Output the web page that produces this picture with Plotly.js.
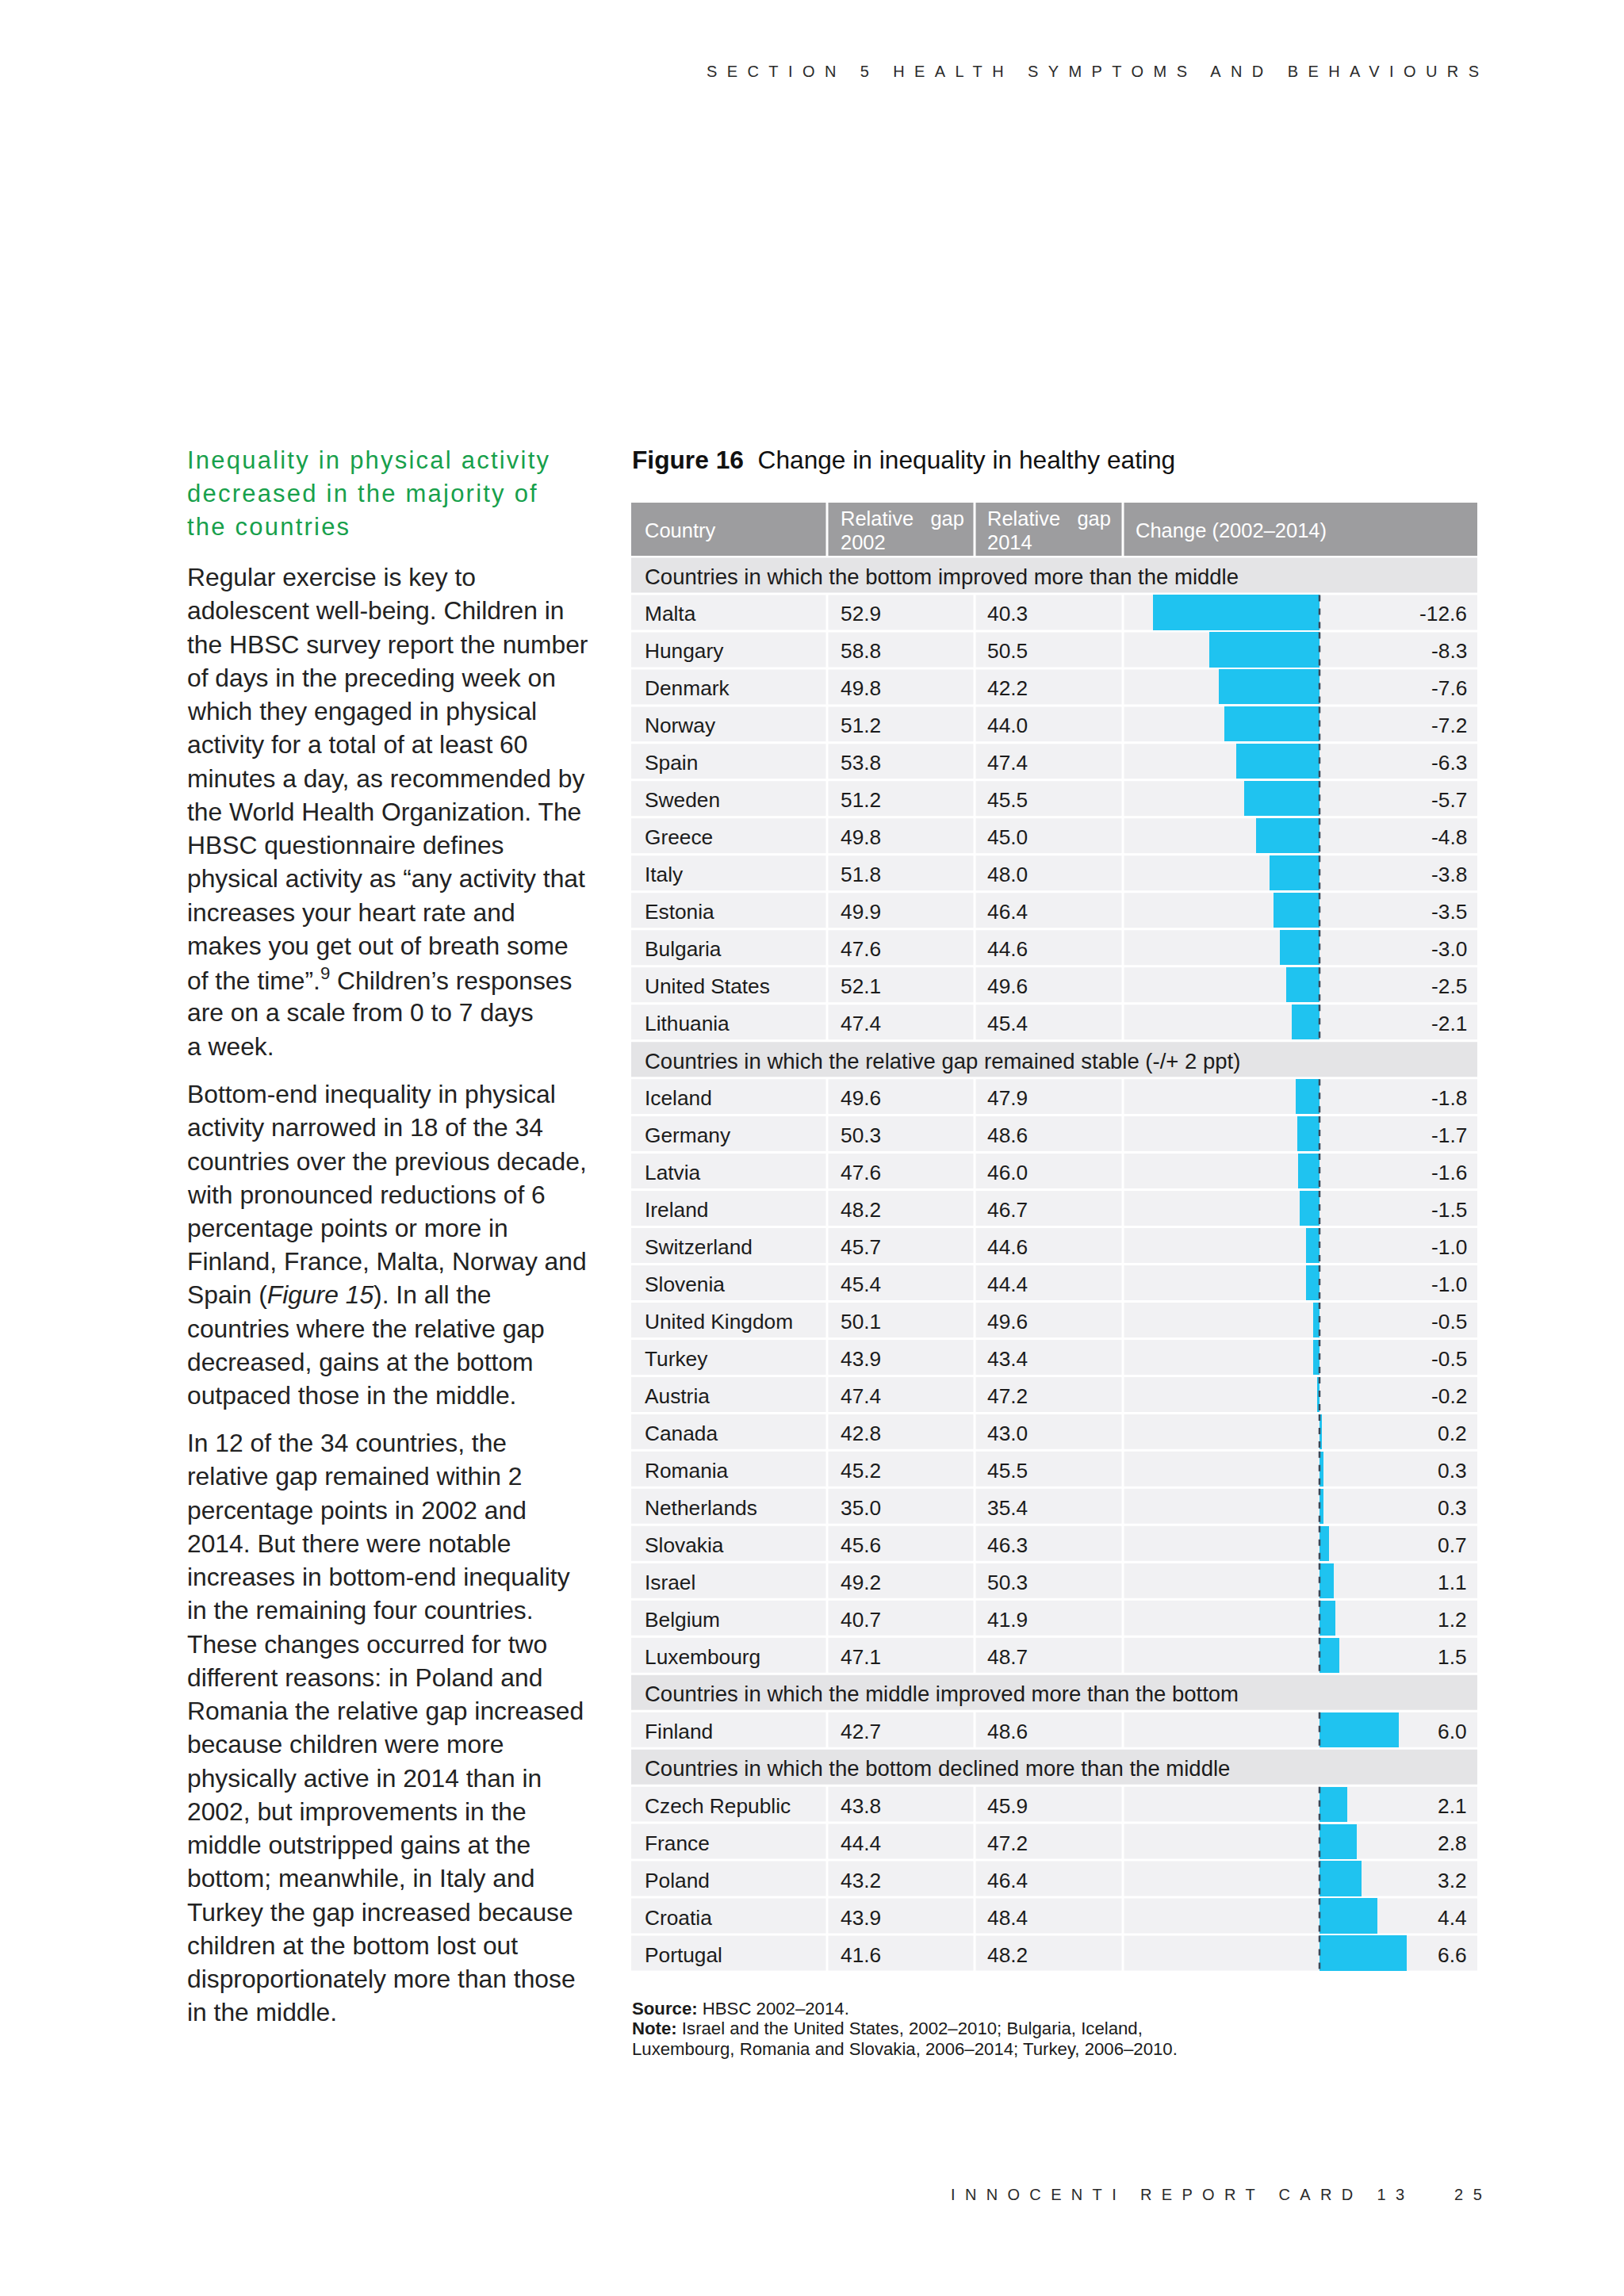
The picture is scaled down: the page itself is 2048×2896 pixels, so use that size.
<!DOCTYPE html>
<html><head><meta charset="utf-8">
<script src="https://cdn.plot.ly/plotly-3.0.1.min.js"></script>
<style>html,body{margin:0;padding:0;background:#fff;}</style>
</head><body>
<div id="chart" style="width:2048px;height:2896px;"></div>
<script>
// ---------------- DATA ----------------
const groupLabels = [
  "Countries in which the bottom improved more than the middle",
  "Countries in which the relative gap remained stable (-/+ 2 ppt)",
  "Countries in which the middle improved more than the bottom",
  "Countries in which the bottom declined more than the middle"
];
const countries = ["Malta","Hungary","Denmark","Norway","Spain","Sweden","Greece","Italy","Estonia","Bulgaria","United States","Lithuania",
  "Iceland","Germany","Latvia","Ireland","Switzerland","Slovenia","United Kingdom","Turkey","Austria","Canada","Romania","Netherlands","Slovakia","Israel","Belgium","Luxembourg",
  "Finland",
  "Czech Republic","France","Poland","Croatia","Portugal"];
const countryGroup = [0,0,0,0,0,0,0,0,0,0,0,0,
  1,1,1,1,1,1,1,1,1,1,1,1,1,1,1,1,
  2,
  3,3,3,3,3];
const gap2002 = [52.9,58.8,49.8,51.2,53.8,51.2,49.8,51.8,49.9,47.6,52.1,47.4,
  49.6,50.3,47.6,48.2,45.7,45.4,50.1,43.9,47.4,42.8,45.2,35.0,45.6,49.2,40.7,47.1,
  42.7,
  43.8,44.4,43.2,43.9,41.6];
const gap2014 = [40.3,50.5,42.2,44.0,47.4,45.5,45.0,48.0,46.4,44.6,49.6,45.4,
  47.9,48.6,46.0,46.7,44.6,44.4,49.6,43.4,47.2,43.0,45.5,35.4,46.3,50.3,41.9,48.7,
  48.6,
  45.9,47.2,46.4,48.4,48.2];
const change = [-12.6,-8.3,-7.6,-7.2,-6.3,-5.7,-4.8,-3.8,-3.5,-3.0,-2.5,-2.1,
  -1.8,-1.7,-1.6,-1.5,-1.0,-1.0,-0.5,-0.5,-0.2,0.2,0.3,0.3,0.7,1.1,1.2,1.5,
  6.0,
  2.1,2.8,3.2,4.4,6.6];
const headerLabels = ["Country", "Relative\u00a0\u00a0\u00a0gap", "2002", "Relative\u00a0\u00a0\u00a0gap", "2014", "Change (2002\u20132014)"];

const pageHeader = "SECTION 5 HEALTH SYMPTOMS AND BEHAVIOURS";
const footerText = "INNOCENTI REPORT CARD 13";
const pageNumber = "25";
const figTitle = "<b>Figure 16</b>\u00a0 Change in inequality in healthy eating";
const headingLines = ["Inequality in physical activity","decreased in the majority of","the countries"];
const bodyParas = [
 ["Regular exercise is key to","adolescent well-being. Children in","the HBSC survey report the number","of days in the preceding week on","which they engaged in physical","activity for a total of at least 60","minutes a day, as recommended by","the World Health Organization. The","HBSC questionnaire defines","physical activity as \u201cany activity that","increases your heart rate and","makes you get out of breath some","of the time\u201d.<sup>9</sup> Children\u2019s responses","are on a scale from 0 to 7 days","a week."],
 ["Bottom-end inequality in physical","activity narrowed in 18 of the 34","countries over the previous decade,","with pronounced reductions of 6","percentage points or more in","Finland, France, Malta, Norway and","Spain (<i>Figure 15</i>). In all the","countries where the relative gap","decreased, gains at the bottom","outpaced those in the middle."],
 ["In 12 of the 34 countries, the","relative gap remained within 2","percentage points in 2002 and","2014. But there were notable","increases in bottom-end inequality","in the remaining four countries.","These changes occurred for two","different reasons: in Poland and","Romania the relative gap increased","because children were more","physically active in 2014 than in","2002, but improvements in the","middle outstripped gains at the","bottom; meanwhile, in Italy and","Turkey the gap increased because","children at the bottom lost out","disproportionately more than those","in the middle."]
];
const noteLines = ["<b>Source:</b> HBSC 2002\u20132014.",
 "<b>Note:</b> Israel and the United States, 2002\u20132010; Bulgaria, Iceland,",
 "Luxembourg, Romania and Slovakia, 2006\u20132014; Turkey, 2006\u20132010."];

// ---------------- BUILD ----------------
const W = 2048, H = 2896;
const X = v => v / W, Y = v => 1 - v / H;
const FONT = "Liberation Sans, Arial, Helvetica, sans-serif";

// rows: section label followed by its countries
const rowKeys = [], rowIsSection = [], rowCountry = [];
groupLabels.forEach((g, gi) => {
  rowKeys.push(g); rowIsSection.push(true); rowCountry.push(-1);
  countries.forEach((c, ci) => { if (countryGroup[ci] === gi) { rowKeys.push(c); rowIsSection.push(false); rowCountry.push(ci); } });
});
const nRows = rowKeys.length;

const tableTop = 702, tableBottom = 2487, headTop = 634;
const cols = [[796,1041.5],[1044.5,1227.5],[1230.5,1414.5],[1417.5,1863]];
const zeroPx = 1664, pxPerUnit = 16.7;
const barL = 1417.5, barR = 1863;

const barX = rowKeys.map((k, i) => rowIsSection[i] ? null : change[rowCountry[i]]);
const traces = [{
  type: 'bar', orientation: 'h', y: rowKeys, x: barX,
  marker: {color: '#1fc3f0', line: {width: 0}}, width: 0.94,
  hoverinfo: 'skip', showlegend: false
}];

const shapes = [];
const annotations = [];
const spacing = {}; // annotation index -> {target} or group
function ann(o, sp) { annotations.push(Object.assign({showarrow: false, xref: 'paper', yref: 'paper', align: 'left', xanchor: 'left', yanchor: 'middle'}, o)); if (sp) spacing[annotations.length - 1] = sp; }

// header cells
cols.forEach(c => shapes.push({type:'rect', xref:'paper', yref:'paper', x0:X(c[0]), x1:X(c[1]), y0:Y(701), y1:Y(headTop), fillcolor:'#9d9d9f', line:{width:0}, layer:'below'}));
const hf = {family: FONT, size: 25.5, color: '#ffffff'};
ann({x: X(811), y: Y(669), text: headerLabels[0], font: hf});
ann({x: X(1058), y: Y(654), text: headerLabels[1], font: hf});
ann({x: X(1058), y: Y(684), text: headerLabels[2], font: hf});
ann({x: X(1243), y: Y(654), text: headerLabels[3], font: hf});
ann({x: X(1243), y: Y(684), text: headerLabels[4], font: hf});
ann({x: X(1430), y: Y(669), text: headerLabels[5], font: hf});

// row backgrounds & texts
const g = 0.032;
const tf = {family: FONT, size: 26.3, color: '#1b1b1b'};
const sf = {family: FONT, size: 27.5, color: '#1b1b1b'};
rowKeys.forEach((k, i) => {
  if (rowIsSection[i]) {
    shapes.push({type:'rect', xref:'paper', yref:'y', x0:X(796), x1:X(1863), y0:i-0.5+g, y1:i+0.5-g, fillcolor:'#e4e4e6', line:{width:0}, layer:'below'});
    ann({x: X(811), yref: 'y', y: i, yshift: -2, text: k, font: sf});
  } else {
    cols.forEach(c => shapes.push({type:'rect', xref:'paper', yref:'y', x0:X(c[0]), x1:X(c[1]), y0:i-0.5+g, y1:i+0.5-g, fillcolor:'#f1f1f3', line:{width:0}, layer:'below'}));
    const ci = rowCountry[i];
    ann({x: X(811), yref: 'y', y: i, yshift: -2, text: k, font: tf});
    ann({x: X(1058), yref: 'y', y: i, yshift: -2, text: gap2002[ci].toFixed(1), font: tf});
    ann({x: X(1243), yref: 'y', y: i, yshift: -2, text: gap2014[ci].toFixed(1), font: tf});
    ann({x: X(1852), xanchor: 'right', align: 'right', yref: 'y', y: i, yshift: -2, text: change[ci].toFixed(1), font: tf});
    shapes.push({type:'line', xref:'x', yref:'y', x0:0, x1:0, y0:i-0.5+g, y1:i+0.5-g, line:{color:'#3a4757', width:2.5, dash:'8px,9px'}, layer:'above'});
  }
});

// page header / footer
ann({x: X(889), y: Y(90), text: pageHeader, font: {family: FONT, size: 20, color: '#2a2a2a'}}, {target: 974});
ann({x: X(1197), y: Y(2768), text: footerText, font: {family: FONT, size: 20, color: '#2a2a2a'}}, {target: 572});
ann({x: X(1832), y: Y(2768), text: pageNumber, font: {family: FONT, size: 20, color: '#2a2a2a'}}, {target: 35});

// figure title
ann({x: X(795), y: Y(580), text: figTitle, font: {family: FONT, size: 31.7, color: '#111'}});

// green heading
headingLines.forEach((t, j) => ann({x: X(234), y: Y(580 + j * 42.3), text: t, font: {family: FONT, size: 31, color: '#17a04b'}}, j === 0 ? {target: 456, group: 'head'} : {group: 'head'}));

// body paragraphs
const paraStart = [728, 1380, 1820], lineH = 42.25;
bodyParas.forEach((p, pi) => p.forEach((t, j) => ann({x: X(234), y: Y(paraStart[pi] + j * lineH), text: t, font: {family: FONT, size: 31.8, color: '#222'}})));

// notes
noteLines.forEach((t, j) => ann({x: X(795), y: Y(2533 + j * 25.5), text: t, font: {family: FONT, size: 22.2, color: '#1b1b1b'}}));

const layout = {
  width: W, height: H, margin: {l:0, r:0, t:0, b:0},
  paper_bgcolor: '#ffffff', plot_bgcolor: 'rgba(0,0,0,0)',
  xaxis: {domain: [X(barL), X(barR)], range: [-(zeroPx - barL) / pxPerUnit, (barR - zeroPx) / pxPerUnit], visible: false, fixedrange: true},
  yaxis: {domain: [Y(tableBottom), Y(tableTop)], type: 'category', categoryorder: 'array', categoryarray: rowKeys, range: [nRows - 0.5, -0.5], visible: false, fixedrange: true},
  bargap: 0, shapes: shapes, annotations: annotations, showlegend: false,
  font: {family: FONT}
};

Plotly.newPlot('chart', traces, layout, {staticPlot: true, displayModeBar: false}).then(() => {
  const els = document.querySelectorAll('#chart g.annotation');
  let headLs = null;
  els.forEach(el => {
    const idx = +el.getAttribute('data-index');
    const sp = spacing[idx];
    if (!sp || sp.target === undefined) return;
    const t = el.querySelector('text.annotation-text');
    const w = t.getComputedTextLength();
    const n = t.textContent.length;
    const ls = (sp.target - w) / Math.max(1, n - 1);
    t.style.letterSpacing = ls + 'px';
    if (sp.group === 'head') headLs = ls;
  });
  els.forEach(el => {
    const idx = +el.getAttribute('data-index');
    const sp = spacing[idx];
    if (sp && sp.group === 'head' && sp.target === undefined && headLs !== null) {
      el.querySelector('text.annotation-text').style.letterSpacing = headLs + 'px';
    }
  });
});
</script>
</body></html>
